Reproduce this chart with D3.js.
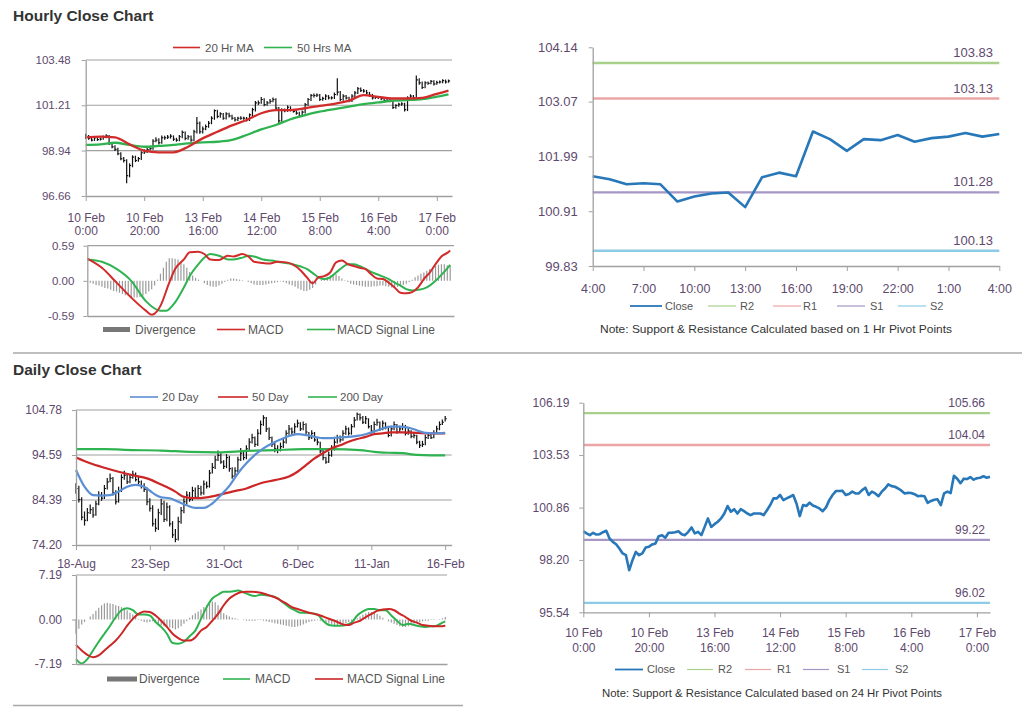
<!DOCTYPE html>
<html><head><meta charset="utf-8">
<script src="https://cdn.jsdelivr.net/npm/d3@7"></script>
<style>body{margin:0;background:#fff;}svg{display:block;}</style>
</head><body><svg id="c" width="1024" height="707"></svg>
<script>
// ---------------- DATA ----------------
// Hourly (10 Feb 0:00 .. 17 Feb 4:00), 125 bars
const hourlyClose = [
99.66,99.55,99.46,99.58,99.49,99.51,99.61,99.68,99.29,99.12,
99.00,98.78,98.53,98.44,97.68,98.19,98.61,98.44,98.53,98.83,
98.87,98.99,99.04,99.41,99.46,99.33,99.58,99.58,99.61,99.66,
99.51,99.46,99.63,99.85,99.55,99.63,99.46,99.88,100.31,99.88,
100.02,100.14,100.31,100.56,100.94,100.65,100.78,100.56,100.78,100.68,
100.56,100.48,100.56,100.56,100.56,100.48,100.73,100.99,101.33,101.33,
101.50,101.24,101.33,101.41,101.50,101.07,100.43,100.99,100.94,101.11,
100.97,100.90,100.82,100.68,100.87,101.24,101.50,101.70,101.70,101.72,
101.50,101.55,101.67,101.58,101.58,101.75,101.87,101.50,101.67,101.58,
101.44,101.67,101.83,102.04,101.95,101.92,101.83,101.72,101.58,101.61,
101.60,101.54,101.44,101.46,101.44,101.10,101.20,101.26,101.28,100.99,
101.58,101.67,101.60,102.48,102.33,102.10,102.33,102.31,102.41,102.28,
102.35,102.38,102.45,102.38,102.43];
const hourlyHigh = [
99.78,99.72,99.62,99.66,99.64,99.60,99.70,99.76,99.72,99.36,
99.20,99.08,98.86,98.62,98.50,98.30,98.70,98.68,98.62,98.90,
99.00,99.10,99.15,99.50,99.60,99.55,99.70,99.68,99.72,99.76,
99.70,99.58,99.72,99.95,99.90,99.72,99.70,99.98,100.62,100.40,
100.15,100.24,100.42,100.66,101.00,100.98,100.86,100.82,100.86,100.84,
100.74,100.62,100.64,100.66,100.64,100.62,100.80,101.08,101.42,101.45,
101.62,101.56,101.42,101.52,101.60,101.56,101.12,101.06,101.05,101.20,
101.16,101.02,100.96,100.88,100.95,101.32,101.58,101.78,101.80,101.80,
101.78,101.64,101.76,101.72,101.66,101.85,102.56,101.92,101.76,101.72,
101.64,101.76,101.92,102.12,102.10,102.02,101.98,101.88,101.78,101.68,
101.68,101.64,101.58,101.54,101.52,101.48,101.26,101.34,101.36,101.34,
101.66,101.76,101.72,102.70,102.56,102.40,102.42,102.40,102.48,102.46,
102.44,102.45,102.52,102.50,102.50];
const hourlyLow = [
99.52,99.48,99.40,99.42,99.42,99.44,99.48,99.56,99.22,99.05,
98.92,98.70,98.45,98.34,97.30,97.60,98.10,98.36,98.38,98.46,
98.76,98.82,98.95,98.98,99.36,99.24,99.28,99.48,99.52,99.54,
99.42,99.38,99.40,99.56,99.46,99.48,99.38,99.40,99.80,99.78,
99.80,99.96,100.08,100.26,100.48,100.56,100.58,100.48,100.50,100.60,
100.48,100.40,100.42,100.48,100.48,100.40,100.42,100.66,100.90,101.22,
101.28,101.16,101.18,101.28,101.36,100.98,100.30,100.38,100.86,100.88,
100.90,100.84,100.74,100.60,100.62,100.80,101.18,101.42,101.60,101.62,
101.42,101.44,101.48,101.50,101.50,101.52,101.70,101.42,101.44,101.50,
101.36,101.38,101.60,101.78,101.88,101.84,101.76,101.64,101.50,101.52,
101.52,101.46,101.36,101.38,101.36,101.02,101.04,101.14,101.18,100.90,
100.92,101.50,101.52,101.54,102.24,102.02,102.06,102.24,102.26,102.20,
102.24,102.30,102.32,102.30,102.34];
const hourlyTickIdx = [0,20,40,60,80,100,120];
const hourlyTickLabels = [["10 Feb","0:00"],["10 Feb","20:00"],["13 Feb","16:00"],["14 Feb","12:00"],["15 Feb","8:00"],["16 Feb","4:00"],["17 Feb","0:00"]];
const hourlyYTicks = [96.66,98.94,101.21,103.48];
const hourlyMaIdx = [0,5,10,15,20,25,30,35,40,45,50,55,60,65,70,75,80,85,90,95,100,105,110,115,120,124];
const ma20Hr = [99.60,99.64,99.60,99.25,98.93,98.85,98.85,99.13,99.55,99.88,100.20,100.47,100.81,100.97,100.97,101.06,101.18,101.28,101.44,101.72,101.63,101.55,101.55,101.58,101.78,101.94];
const ma50Hr = [99.22,99.25,99.33,99.22,99.13,99.17,99.22,99.30,99.35,99.38,99.47,99.72,100.00,100.22,100.51,100.72,100.89,101.02,101.14,101.27,101.35,101.44,101.47,101.52,101.64,101.76];
const hMacdIdx = [0,5,10,15,20,22,23,25,28,30,33,35,38,40,42,45,48,50,53,55,57,60,62,65,68,70,73,75,77,79,81,83,85,87,89,91,93,95,97,99,101,103,105,107,109,111,113,115,117,119,121,123,124];
const hMacd = [0.375,0.22,-0.03,-0.28,-0.50,-0.57,-0.55,-0.42,-0.03,0.20,0.36,0.48,0.49,0.45,0.36,0.35,0.42,0.41,0.45,0.41,0.32,0.30,0.29,0.32,0.31,0.28,0.17,0.06,-0.04,0.06,0.08,0.14,0.31,0.34,0.28,0.25,0.22,0.20,0.11,0.04,0.03,-0.03,-0.11,-0.20,-0.21,-0.19,-0.11,0.03,0.14,0.28,0.41,0.47,0.51];
const hSigIdx = [0,5,10,15,20,25,27,30,33,35,38,40,42,45,48,50,53,55,57,60,63,66,70,73,75,77,79,81,83,85,87,89,91,93,95,97,99,101,103,105,107,109,111,113,115,117,119,121,123,124];
const hSignal = [0.36,0.32,0.20,0.00,-0.34,-0.50,-0.50,-0.36,-0.11,0.08,0.28,0.39,0.45,0.42,0.36,0.36,0.39,0.42,0.41,0.36,0.34,0.31,0.28,0.24,0.20,0.13,0.06,0.03,0.06,0.14,0.22,0.28,0.28,0.25,0.20,0.15,0.11,0.07,0.03,-0.03,-0.08,-0.14,-0.16,-0.15,-0.13,-0.08,0.00,0.10,0.21,0.27];
const hDivergence = [
0.0,-0.03,-0.05,-0.07,-0.08,-0.10,-0.12,-0.13,-0.15,-0.17,
-0.18,-0.20,-0.22,-0.24,-0.25,-0.27,-0.28,-0.28,-0.27,-0.25,
-0.22,-0.18,-0.14,-0.08,0.02,0.12,0.22,0.32,0.38,0.38,
0.37,0.36,0.33,0.28,0.22,0.15,0.09,0.05,0.02,0.0,
-0.04,-0.07,-0.09,-0.10,-0.10,-0.08,-0.05,-0.02,0.02,0.04,
0.04,0.03,0.02,0.01,0.0,-0.02,-0.04,-0.06,-0.07,-0.07,
-0.07,-0.06,-0.05,-0.04,-0.03,-0.02,-0.01,-0.02,-0.04,-0.06,
-0.08,-0.10,-0.13,-0.15,-0.17,-0.17,-0.15,-0.12,-0.06,0.0,
0.02,0.04,0.07,0.09,0.11,0.11,0.08,0.04,0.01,-0.02,
-0.05,-0.06,-0.07,-0.08,-0.09,-0.10,-0.10,-0.10,-0.09,-0.09,
-0.08,-0.08,-0.09,-0.10,-0.11,-0.11,-0.10,-0.09,-0.07,-0.05,
-0.02,0.02,0.06,0.09,0.12,0.14,0.17,0.20,0.22,0.25,
0.27,0.28,0.28,0.26,0.25];
const hMacdYTicks = [-0.59,0,0.59];

// Last 25 hours (16 Feb 4:00 .. 17 Feb 4:00) pivot chart
const pivotHourLabels = ["4:00","7:00","10:00","13:00","16:00","19:00","22:00","1:00","4:00"];
const pivotHourTickIdx = [0,3,6,9,12,15,18,21,24];
const hrPivotYTicks = [99.83,100.91,101.99,103.07,104.14];
const hrLevelNames = ["R2","R1","S1","S2"];
const hrLevels = [103.83,103.13,101.28,100.13];
const dayLevels = [105.66,104.04,99.22,96.02];
const dayPivotYTicks = [95.54,98.20,100.86,103.53,106.19];

// Daily (18-Aug .. 16-Feb), 131 bars
const dailyClose = [
87.0,84.5,80.5,79.8,81.5,82.2,81.0,83.5,85.5,84.8,
87.0,88.5,89.3,86.0,84.0,86.5,89.5,90.0,88.5,89.5,
90.2,89.0,88.5,87.5,86.8,84.0,82.5,79.0,78.0,81.5,
83.5,80.0,82.8,79.0,76.5,75.5,79.5,82.0,84.0,85.5,
84.5,86.5,85.0,87.0,86.0,88.0,87.5,90.5,91.8,93.5,
94.5,93.0,92.0,94.0,91.5,89.8,91.0,93.5,95.0,94.0,
96.0,97.5,98.5,97.0,99.5,101.5,103.0,100.5,98.5,97.0,
96.0,95.8,96.5,97.5,99.5,100.5,99.8,101.0,101.8,100.5,
101.5,99.8,98.5,99.5,98.0,97.5,95.5,94.0,93.0,94.5,
96.0,97.5,98.5,98.0,99.5,100.5,99.5,101.0,102.5,103.8,
103.0,102.0,102.8,101.0,100.0,101.5,102.0,100.5,101.8,100.8,
99.0,100.5,101.5,99.8,100.5,101.0,99.5,100.0,98.8,99.0,
97.5,96.8,97.0,98.5,99.0,98.5,99.5,100.5,101.5,102.0,
102.8];
const dailyHigh = [
88.2,87.6,85.0,81.8,82.6,83.4,82.8,84.2,86.4,86.2,
87.8,89.4,90.4,89.6,86.6,87.4,90.2,91.0,90.4,90.2,
91.0,90.6,89.8,88.8,88.2,87.2,84.8,83.2,80.2,82.4,
84.6,84.2,83.8,83.2,79.6,77.8,80.6,82.8,84.8,86.4,
86.2,87.4,87.2,87.8,87.6,88.8,88.6,91.2,92.8,94.4,
95.6,95.0,93.4,94.8,94.4,91.8,91.8,94.2,96.2,95.6,
96.8,98.4,99.4,98.8,100.4,102.4,103.6,103.2,100.8,98.8,
97.4,96.8,97.4,98.4,100.2,101.4,100.8,101.8,102.6,102.0,
102.2,101.8,99.8,100.2,99.8,98.4,97.6,95.8,94.2,95.4,
96.8,98.2,99.2,99.0,100.2,101.2,100.8,101.6,103.2,104.2,
104.0,103.4,103.4,102.9,101.4,102.2,102.8,102.2,102.4,102.0,
100.9,101.2,102.2,101.6,101.2,101.8,101.4,100.8,100.2,99.8,
99.2,97.8,97.8,99.2,99.8,99.4,100.2,101.2,102.2,102.6,
103.4];
const dailyLow = [
85.8,83.8,79.8,78.6,79.6,81.2,80.4,80.8,83.2,84.2,
84.6,86.8,88.4,85.4,83.4,83.8,86.2,89.0,88.0,88.2,
89.2,88.6,88.0,87.0,86.2,83.2,81.8,78.4,77.2,77.6,
81.0,79.4,79.6,78.4,75.8,74.8,75.2,79.0,81.4,83.4,
84.0,84.2,84.6,84.8,85.4,85.6,87.0,87.2,90.4,91.4,
93.2,92.6,91.4,91.6,90.8,89.2,89.6,90.6,93.2,93.4,
93.6,95.6,97.2,96.4,96.6,99.2,101.2,99.8,98.0,96.4,
95.2,95.0,95.4,96.2,97.2,99.2,99.2,99.4,100.8,100.0,
100.2,99.2,98.0,98.2,97.6,96.8,95.0,93.4,92.6,92.8,
94.2,95.6,97.2,97.4,97.8,99.2,99.0,99.2,100.8,102.4,
102.4,101.6,101.6,100.6,99.4,99.6,101.2,100.0,100.2,100.4,
98.6,98.8,100.2,99.4,99.6,100.2,99.0,99.2,98.4,98.4,
97.0,96.2,96.4,96.8,98.2,98.2,98.4,99.4,100.2,101.4,
102.2];
const dailyTickIdx = [0,26,52,78,104,130];
const dailyTickLabels = ["18-Aug","23-Sep","31-Oct","6-Dec","11-Jan","16-Feb"];
const dailyYTicks = [74.20,84.39,94.59,104.78];
const ma20DayIdx = [0,3,6,9,12,15,18,21,24,27,30,33,36,39,42,45,48,51,54,57,60,63,66,69,72,75,78,81,84,87,90,93,96,99,102,105,108,111,114,117,120,123,126,130];
const ma20Day = [91.2,87.4,85.5,85.4,85.5,86.3,87.4,87.8,87.4,86.0,85.0,84.8,84.0,83.2,82.6,82.6,83.6,85.5,87.6,90.4,92.7,94.6,96.1,97.2,98.1,98.9,99.3,99.1,98.7,98.4,98.4,98.6,98.7,98.9,99.3,99.9,100.6,101.0,101.0,100.8,100.2,99.6,99.5,99.6];
const ma50DayIdx = [0,5,10,15,20,25,30,35,38,42,46,50,55,60,65,70,75,78,81,84,87,90,93,96,99,102,105,108,111,115,120,125,130];
const ma50Day = [94.0,92.7,91.7,90.8,90.0,89.3,87.9,86.3,85.1,84.8,85.0,85.5,86.3,87.0,88.2,88.9,89.7,90.8,92.3,93.8,95.0,96.1,96.8,97.6,98.2,98.7,99.3,99.5,99.7,99.7,99.6,99.5,99.5];
const ma200DayIdx = [0,10,20,30,40,50,60,70,80,90,100,105,110,115,120,125,130];
const ma200Day = [95.9,95.9,95.7,95.6,95.3,95.2,95.5,95.7,95.9,95.9,95.7,95.3,95.1,95.0,94.6,94.5,94.5];
const dMacdIdx = [0,2,4,6,8,10,12,14,16,18,20,22,24,26,28,30,32,34,36,38,40,42,44,46,48,50,52,54,56,57,59,61,63,65,67,69,71,73,75,77,79,81,83,85,87,89,91,93,95,97,99,101,103,105,107,109,111,113,115,117,119,121,123,125,127,129,130];
const dMacd = [-6.4,-7.1,-6.4,-5.0,-3.6,-2.3,-1.0,0.4,1.5,1.8,1.5,0.8,0.8,0.65,-0.4,-1.2,-2.3,-3.8,-3.9,-3.6,-2.7,-1.8,0.1,2.0,3.4,4.0,4.5,4.5,4.6,4.7,4.4,4.0,3.8,4.0,3.9,3.8,3.4,2.7,2.0,1.5,1.1,1.1,1.0,0.8,-0.2,-0.9,-1.0,-1.0,-0.9,-0.5,0.65,1.3,1.7,1.7,1.5,1.5,0.65,-0.2,-0.9,-0.7,-0.9,-1.1,-1.2,-1.1,-1.0,-0.5,-0.3];
const dSigIdx = d3.range(0,131,2);
const dSignal = [-4.1,-5.0,-5.7,-6.1,-5.8,-5.0,-4.2,-3.4,-2.3,-1.0,
0.1,0.9,1.3,1.2,0.65,-0.2,-1.2,-2.3,-3.0,-3.4,
-3.4,-2.9,-1.8,-1.2,-0.2,0.9,2.3,3.4,4.0,4.4,
4.5,4.5,4.4,4.2,3.9,3.6,3.1,2.6,2.0,1.7,
1.4,1.1,0.9,0.65,0.3,-0.05,-0.4,-0.8,-0.9,-0.5,
-0.2,0.4,0.9,1.4,1.6,1.7,1.5,0.9,0.4,-0.2,
-0.5,-0.9,-1.0,-1.1,-1.1,-1.0];
const dDivergence = [
-2.3,-1.5,-0.8,-0.4,0.0,0.5,0.9,1.4,1.9,2.3,
2.6,2.7,2.6,2.5,2.3,2.2,2.0,1.8,1.5,1.1,
0.8,0.4,0.1,-0.2,-0.4,-0.5,-0.4,-0.3,-0.5,-0.7,
-0.9,-1.1,-1.2,-1.3,-1.4,-1.6,-1.4,-1.1,-0.7,-0.3,
0.3,0.7,1.0,1.3,1.6,2.0,2.3,2.7,2.9,2.8,
2.3,1.6,1.0,0.7,0.5,0.3,0.2,0.1,0.0,-0.1,
-0.2,-0.2,-0.2,-0.2,-0.1,-0.1,-0.2,-0.3,-0.4,-0.5,
-0.6,-0.7,-0.8,-0.9,-1.0,-1.1,-1.2,-1.2,-1.1,-1.0,
-0.8,-0.6,-0.4,-0.3,-0.2,-0.1,-0.2,-0.3,-0.5,-0.7,
-0.8,-0.9,-0.9,-0.8,-0.7,-0.6,-0.4,-0.3,-0.2,0.2,
0.5,0.8,1.0,1.2,1.2,1.1,0.9,0.6,0.3,0.0,
-0.3,-0.5,-0.7,-0.9,-1.1,-1.2,-1.2,-1.1,-0.9,-0.7,
-0.5,-0.4,-0.3,-0.2,-0.2,-0.1,-0.1,0.0,0.1,0.2,
0.4];
const dMacdYTicks = [-7.19,0,7.19];

// ---------------- STYLE ----------------
const FONT = '"Liberation Sans", Arial, Helvetica, sans-serif';
const AXIS = "#a0a0a0", LBL = "#5e4a6e", LEG = "#555";
const C_RED = "#d22b2b", C_GREEN = "#2fb350", C_BLUE = "#5b8fd4", C_CLOSE = "#2777b9";
const LEVEL_COLORS = ["#a9d08b","#eba5a5","#a596c6","#8ccbe8"];
const svg = d3.select("#c").style("font-family", FONT);

function yAxis(x, scale, ticks, fmt, pad, fs){
  const g = svg.append("g").attr("transform",`translate(${x},0)`)
    .call(d3.axisLeft(scale).tickValues(ticks).tickFormat(fmt).tickSize(4).tickSizeOuter(0).tickPadding(pad));
  g.attr("font-family", FONT).attr("font-size", fs);
  g.select(".domain").attr("stroke", AXIS).attr("stroke-width", 1.3);
  g.selectAll(".tick line").attr("stroke", AXIS);
  g.selectAll(".tick text").attr("fill", LBL);
  return g;
}
function xAxis(y, scale, ticks, labels, fs, base, gap){
  const g = svg.append("g").attr("transform",`translate(0,${y})`)
    .call(d3.axisBottom(scale).tickValues(ticks).tickFormat("").tickSize(ticks.length?5:0).tickSizeOuter(0));
  g.select(".domain").attr("stroke", AXIS).attr("stroke-width", 1.3);
  g.selectAll(".tick line").attr("stroke", AXIS);
  g.selectAll(".tick text").remove();
  g.selectAll(".tick").each(function(d,i){
    const lines = Array.isArray(labels[i]) ? labels[i] : [labels[i]];
    const t = d3.select(this).append("text").attr("fill", LBL).attr("text-anchor","middle")
      .attr("font-size", fs).attr("font-family", FONT);
    lines.forEach((ln,j)=> t.append("tspan").attr("x",0).attr("y", base + j*gap).text(ln));
  });
  return g;
}
function grid(xs, yScale, vals){
  svg.append("g").selectAll("line").data(vals).join("line")
    .attr("x1", xs[0]).attr("x2", xs[1])
    .attr("y1", d=>yScale(d)).attr("y2", d=>yScale(d))
    .attr("stroke", AXIS).attr("stroke-width", 1.2);
}
function lineLeg(x1, x2, y, color, w, label, tx, fs){
  svg.append("line").attr("x1",x1).attr("x2",x2).attr("y1",y).attr("y2",y).attr("stroke",color).attr("stroke-width",w);
  svg.append("text").attr("x",tx).attr("y",y+fs*0.36).attr("fill",LEG).attr("font-size",fs).text(label);
}
function barLeg(x1, x2, y, label, tx, fs){
  svg.append("rect").attr("x",x1).attr("y",y-2.5).attr("width",x2-x1).attr("height",5).attr("fill","#777");
  svg.append("text").attr("x",tx).attr("y",y+fs*0.36).attr("fill",LEG).attr("font-size",fs).text(label);
}
function sampledLine(xs, ys, idx, vals, color, w){
  svg.append("path").datum(idx.map((d,i)=>[d, vals[i]]))
    .attr("fill","none").attr("stroke",color).attr("stroke-width",w).attr("stroke-linejoin","round")
    .attr("d", d3.line().x(d=>xs(d[0])).y(d=>ys(d[1])).curve(d3.curveMonotoneX));
}
function ohlc(xs, ys, hi, lo, cl){
  const g = svg.append("g").attr("stroke","#111").attr("stroke-width",1.2);
  g.selectAll("line.hl").data(cl).join("line").attr("class","hl")
    .attr("x1",(d,i)=>xs(i)).attr("x2",(d,i)=>xs(i)).attr("y1",(d,i)=>ys(hi[i])).attr("y2",(d,i)=>ys(lo[i]));
  g.selectAll("line.cl").data(cl).join("line").attr("class","cl")
    .attr("x1",(d,i)=>xs(i)).attr("x2",(d,i)=>xs(i)+1.6).attr("y1",d=>ys(d)).attr("y2",d=>ys(d));
}
function histo(xs, ys, vals){
  svg.append("g").selectAll("line").data(vals).join("line")
    .attr("x1",(d,i)=>xs(i)).attr("x2",(d,i)=>xs(i)).attr("y1",ys(0)).attr("y2",d=>ys(d))
    .attr("stroke","#9a9a9a").attr("stroke-width",1.2);
}
function pivotChart(cfg){
  const {xs, ys, yTicks, levels, closeData, labelX, fsY, fsLvl} = cfg;
  levels.forEach((v,i)=>{
    svg.append("line").attr("x1",xs.range()[0]).attr("x2",xs.range()[1]).attr("y1",ys(v)).attr("y2",ys(v))
      .attr("stroke",LEVEL_COLORS[i]).attr("stroke-width",2.4);
    svg.append("text").attr("x",labelX).attr("y",ys(v)-6).attr("text-anchor","end")
      .attr("fill",LBL).attr("font-size",fsLvl).text(v.toFixed(2));
  });
  svg.append("path").datum(closeData).attr("fill","none").attr("stroke",C_CLOSE).attr("stroke-width",2.6)
    .attr("stroke-linejoin","round").attr("d", d3.line().x((d,i)=>xs(i)).y(d=>ys(d)));
}

// ---------------- TITLES / SEPARATORS ----------------
svg.append("text").attr("x",13).attr("y",21).attr("font-size",15.5).attr("font-weight","bold").attr("fill","#333").text("Hourly Close Chart");
svg.append("text").attr("x",13).attr("y",375).attr("font-size",15.5).attr("font-weight","bold").attr("fill","#333").text("Daily Close Chart");
svg.append("line").attr("x1",13).attr("x2",1022).attr("y1",353).attr("y2",353).attr("stroke","#a8a8a8").attr("stroke-width",1.5);
svg.append("line").attr("x1",13).attr("x2",463).attr("y1",705.5).attr("y2",705.5).attr("stroke","#a8a8a8").attr("stroke-width",1.5);

// ---------------- HOURLY PRICE ----------------
const hx = d3.scaleLinear().domain([0,125.2]).range([85.7,452]);
const hy = d3.scaleLinear().domain([96.66,103.48]).range([196,60]);
grid([85.7,452], hy, hourlyYTicks.slice(1));
ohlc(hx, hy, hourlyHigh, hourlyLow, hourlyClose);
sampledLine(hx, hy, hourlyMaIdx, ma50Hr, C_GREEN, 2.3);
sampledLine(hx, hy, hourlyMaIdx, ma20Hr, C_RED, 2.3);
yAxis(85.7, hy, hourlyYTicks, d=>d.toFixed(2), 11, 11.5);
xAxis(196, hx, hourlyTickIdx, hourlyTickLabels, 12, 25.5, 13.5);
lineLeg(173,200,47.5,C_RED,1.6,"20 Hr MA",205,11.5);
lineLeg(264,292,47.5,C_GREEN,1.6,"50 Hrs MA",297,11.5);

// ---------------- HOURLY MACD ----------------
const mx = d3.scaleLinear().domain([0,125.3]).range([87.3,454]);
const my = d3.scaleLinear().domain([-0.59,0.59]).range([316,245.7]);
grid([87.3,454], my, [0.59]);
histo(mx, my, hDivergence);
sampledLine(mx, my, hSigIdx, hSignal, C_GREEN, 2);
sampledLine(mx, my, hMacdIdx, hMacd, C_RED, 2);
yAxis(87.3, my, hMacdYTicks, d=>d.toFixed(2), 9, 11.5);
xAxis(316, mx, [], [], 12, 0, 0);
barLeg(103,130,329.5,"Divergence",135,12);
lineLeg(217,245,329.5,C_RED,1.6,"MACD",248,12);
lineLeg(307,335,329.5,C_GREEN,1.6,"MACD Signal Line",337,12);

// ---------------- HOURLY PIVOT (last 25 h) ----------------
const tx = d3.scaleLinear().domain([0,24]).range([592.7,999.3]);
const ty = d3.scaleLinear().domain([99.83,104.14]).range([266,47.3]);
pivotChart({xs:tx, ys:ty, levels:hrLevels, closeData:hourlyClose.slice(-25), labelX:993, fsLvl:13});
yAxis(592.7, ty, hrPivotYTicks, d=>d.toFixed(2), 11, 13);
xAxis(266, tx, pivotHourTickIdx, pivotHourLabels, 12.5, 27, 0);
lineLeg(630,662,306,C_CLOSE,1.8,"Close",665,11);
hrLevelNames.forEach((n,i)=>{
  const xs0 = [708,773,837,898][i], tx0=[740,803,870,930][i];
  lineLeg(xs0, xs0+28, 306, LEVEL_COLORS[i], 1.2, n, tx0, 11);
});
svg.append("text").attr("x",600).attr("y",333).attr("font-size",10.5).attr("fill","#333")
  .attr("textLength",352).attr("lengthAdjust","spacingAndGlyphs")
  .text("Note: Support & Resistance Calculated based on 1 Hr Pivot Points");

// ---------------- DAILY PRICE ----------------
const dx = d3.scaleLinear().domain([0,132.3]).range([76,451.7]);
const dy = d3.scaleLinear().domain([74.20,104.78]).range([545,410]);
grid([76,451.7], dy, dailyYTicks.slice(1));
ohlc(dx, dy, dailyHigh, dailyLow, dailyClose);
sampledLine(dx, dy, ma200DayIdx, ma200Day, C_GREEN, 2.2);
sampledLine(dx, dy, ma50DayIdx, ma50Day, "#cc2626", 2.2);
sampledLine(dx, dy, ma20DayIdx, ma20Day, C_BLUE, 2.2);
yAxis(76, dy, dailyYTicks, d=>d.toFixed(2), 10, 12);
xAxis(545, dx, dailyTickIdx, dailyTickLabels, 12, 22.5, 0);
lineLeg(130,158,397,C_BLUE,1.6,"20 Day",162,11.5);
lineLeg(218,248,397,"#cc2626",1.6,"50 Day",252,11.5);
lineLeg(308,337,397,C_GREEN,1.6,"200 Day",340,11.5);

// ---------------- DAILY MACD ----------------
const mdx = d3.scaleLinear().domain([0,130.6]).range([76,447]);
const mdy = d3.scaleLinear().domain([-7.19,7.19]).range([664,575]);
grid([76,447], mdy, [7.19]);
histo(mdx, mdy, dDivergence);
sampledLine(mdx, mdy, dMacdIdx, dMacd, C_GREEN, 2);
sampledLine(mdx, mdy, dSigIdx, dSignal, "#cc2626", 2);
yAxis(76, mdy, dMacdYTicks, d=>d.toFixed(2), 10, 12);
xAxis(664, mdx, [], [], 12, 0, 0);
barLeg(107,137,679,"Divergence",139,12);
lineLeg(223,250,679,C_GREEN,1.6,"MACD",255,12);
lineLeg(315,343,679,"#cc2626",1.6,"MACD Signal Line",347,12);

// ---------------- DAILY PIVOT (hourly closes) ----------------
const bx = d3.scaleLinear().domain([0,124]).range([583.3,990]);
const by = d3.scaleLinear().domain([95.54,106.19]).range([612.3,402.7]);
pivotChart({xs:bx, ys:by, levels:dayLevels, closeData:hourlyClose, labelX:985, fsLvl:12});
yAxis(583.3, by, dayPivotYTicks, d=>d.toFixed(2), 10, 12);
xAxis(612.3, bx, hourlyTickIdx, hourlyTickLabels, 12, 25, 14.5);
lineLeg(615,643,669.5,C_CLOSE,1.8,"Close",647,11);
hrLevelNames.forEach((n,i)=>{
  const xs0 = [687,745,803,862][i], tx0=[718,777,837,895][i];
  lineLeg(xs0, xs0+26, 669.5, LEVEL_COLORS[i], 1.2, n, tx0, 11);
});
svg.append("text").attr("x",602).attr("y",697).attr("font-size",10.5).attr("fill","#333")
  .attr("textLength",340).attr("lengthAdjust","spacingAndGlyphs")
  .text("Note: Support & Resistance Calculated based on 24 Hr Pivot Points");
</script></body></html>
